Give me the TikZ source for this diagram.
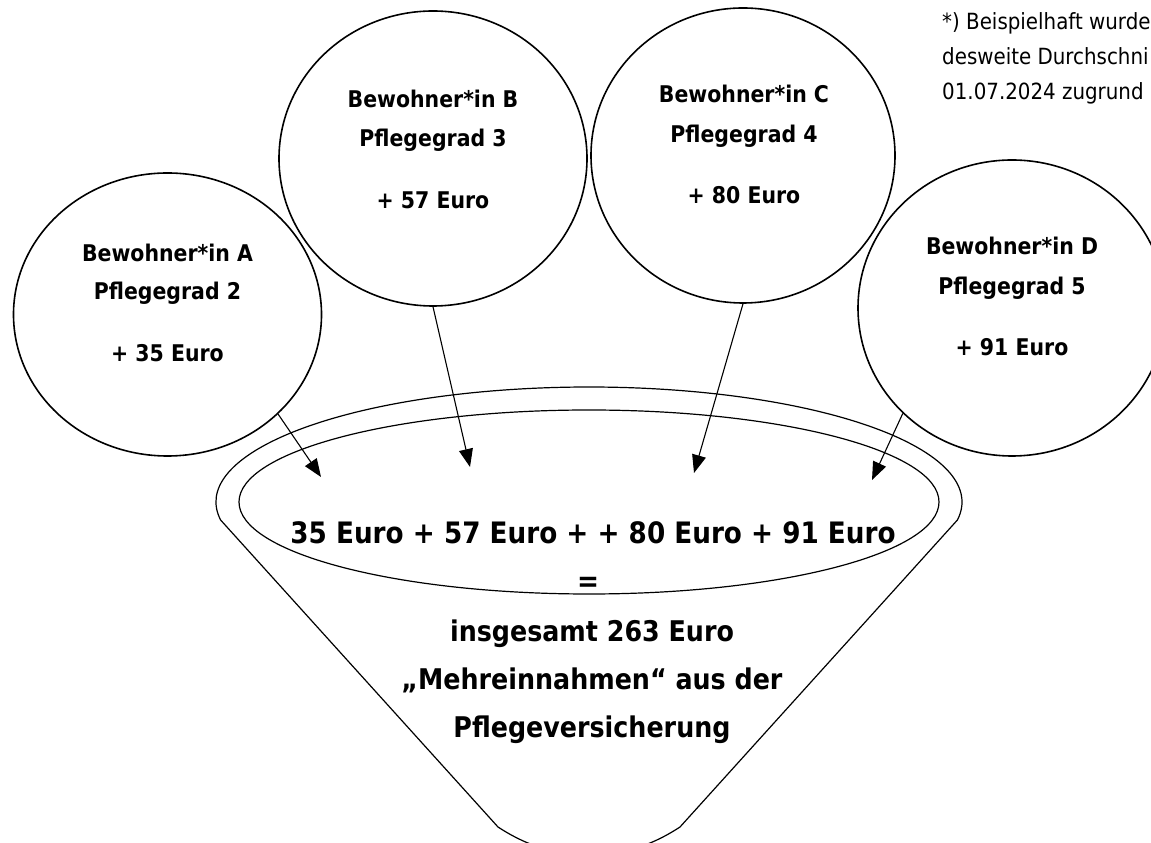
\documentclass[tikz,border=0pt]{standalone}
\usepackage{fontspec}
\setmainfont{DejaVu Sans}[FakeStretch=0.89]
\usetikzlibrary{shapes.geometric,arrows.meta}
\begin{document}
\begin{tikzpicture}[x=1pt,y=1pt,
  person/.style={ellipse, draw, line width=1.6pt, inner sep=0pt},
  lbl/.style={anchor=base, font=\fontsize{23}{28}\selectfont\bfseries, inner sep=0pt},
  big/.style={anchor=base, font=\fontsize{29.5}{34}\selectfont\bfseries, inner sep=0pt},
  mid/.style={anchor=base, font=\fontsize{28.5}{34}\selectfont\bfseries, inner sep=0pt},
  note/.style={anchor=base west, font=\fontsize{22.3}{26}\selectfont, inner sep=0pt},
  arr/.style={-{Triangle[length=18pt,width=14pt]}, line width=1.1pt},
  funnel/.style={line width=1.2pt}]
\useasboundingbox (0,0) rectangle (1151,843);

% funnel
\draw[funnel] (220.6,323) arc[start angle=189, end angle=-9, x radius=373, y radius=115]
  -- (680,16) .. controls (648,-5) and (618,-12) .. (589,-12)
  .. controls (560,-12) and (530,-5) .. (498,16) -- cycle;
\draw[funnel] (589,341) ellipse [x radius=350, y radius=92];

% persons
\node[person, minimum width=308pt, minimum height=283pt] (A) at (167.5,528.5) {};
\node[person, minimum width=308pt, minimum height=295pt] (B) at (433,684.5) {};
\node[person, minimum width=304pt, minimum height=295pt] (C) at (743,687.5) {};
\node[person, minimum width=308pt, minimum height=296pt] (D) at (1012,535) {};

\node[lbl] (a1) at (167.5,581) {Bewohner*in A};
\node[lbl] (a2) at (167.5,543) {Pflegegrad 2};
\node[lbl] (a3) at (167.5,481) {+ 35 Euro};
\node[lbl] (b1) at (433,735) {Bewohner*in B};
\node[lbl] (b2) at (433,696) {Pflegegrad 3};
\node[lbl] (b3) at (433,634) {+ 57 Euro};
\node[lbl] (c1) at (744,740) {Bewohner*in C};
\node[lbl] (c2) at (744,700) {Pflegegrad 4};
\node[lbl] (c3) at (744,639) {+ 80 Euro};
\node[lbl] (d1) at (1012,588) {Bewohner*in D};
\node[lbl] (d2) at (1012,548) {Pflegegrad 5};
\node[lbl] (d3) at (1012,487) {+ 91 Euro};

% arrows
\coordinate (tA) at (321,366);
\coordinate (tB) at (470,376);
\coordinate (tC) at (694,370);
\coordinate (tD) at (872,363);
\draw[arr] (A.-42.5) -- (tA);
\draw[arr] (B.south) -- (tB);
\draw[arr] (C.south) -- (tC);
\draw[arr] (D.-136) -- (tD);

% funnel text
\node[big] (sum) at (593,299) {35 Euro + 57 Euro + + 80 Euro + 91 Euro};
\node[big] (eq) at (588,251) {=};
\node[mid] (t1) at (592,201) {insgesamt 263 Euro};
\node[mid] (t2) at (592,153) {„Mehreinnahmen“ aus der};
\node[mid] (t3) at (592,105) {Pflegeversicherung};

% note
\node[note] (n1) at (942,813) {*) Beispielhaft wurde};
\node[note] (n2) at (942,778) {desweite Durchschni};
\node[note] (n3) at (942,743) {01.07.2024 zugrund};
\end{tikzpicture}
\end{document}
